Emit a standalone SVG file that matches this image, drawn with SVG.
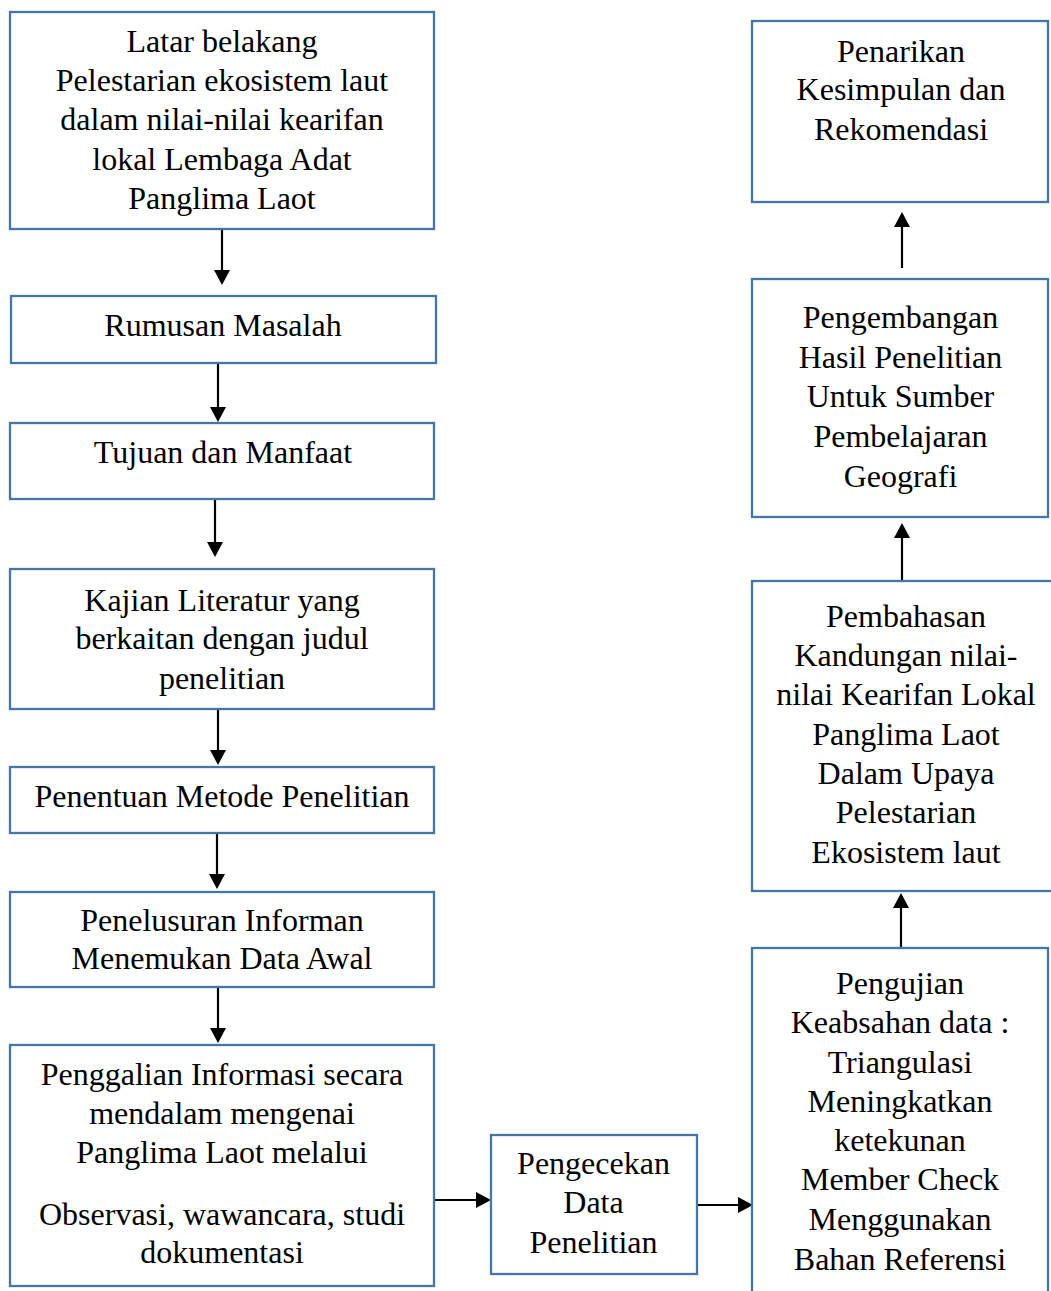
<svg xmlns="http://www.w3.org/2000/svg" width="1051" height="1291" viewBox="0 0 1051 1291">
<style>
.box{fill:#ffffff;stroke:#4675a8;stroke-width:2.3}
.t{font-family:"Liberation Serif","Times New Roman",serif;font-size:32px;fill:#000;text-anchor:middle}
.c{stroke:#000;stroke-width:2.2;fill:none;marker-end:url(#ah)}
</style>
<defs>
<marker id="ah" markerUnits="userSpaceOnUse" markerWidth="18" markerHeight="18" viewBox="0 0 18 18" refX="9" refY="9" orient="auto">
<path d="M1,1 L16,9 L1,17 z" fill="#000"/>
</marker>
</defs>
<rect width="1051" height="1291" fill="#ffffff"/>
<g id="connectors">
<line class="c" x1="222" y1="230" x2="222" y2="278"/>
<line class="c" x1="218" y1="364" x2="218" y2="415"/>
<line class="c" x1="215" y1="500" x2="215" y2="550"/>
<line class="c" x1="218" y1="710" x2="218" y2="758"/>
<line class="c" x1="217" y1="834" x2="217" y2="882"/>
<line class="c" x1="218" y1="988" x2="218" y2="1036"/>
<line class="c" x1="435" y1="1200" x2="484" y2="1200"/>
<line class="c" x1="698" y1="1205" x2="746" y2="1205"/>
<line class="c" x1="901" y1="947" x2="901" y2="900"/>
<line class="c" x1="902" y1="580" x2="902" y2="530"/>
<line class="c" x1="902" y1="268" x2="902" y2="219"/>
</g>
<g id="n1"><rect class="box" x="10" y="12" width="424" height="217"/>
<text class="t" x="222" y="52">Latar belakang</text>
<text class="t" x="222" y="91">Pelestarian ekosistem laut</text>
<text class="t" x="222" y="130">dalam nilai-nilai kearifan</text>
<text class="t" x="222" y="170">lokal Lembaga Adat</text>
<text class="t" x="222" y="209">Panglima Laot</text></g>
<g id="n2"><rect class="box" x="11" y="296" width="425" height="67"/>
<text class="t" x="223" y="336">Rumusan Masalah</text></g>
<g id="n3"><rect class="box" x="10" y="423" width="424" height="76"/>
<text class="t" x="223" y="463">Tujuan dan Manfaat</text></g>
<g id="n4"><rect class="box" x="10" y="569" width="424" height="140"/>
<text class="t" x="222" y="611">Kajian Literatur yang</text>
<text class="t" x="222" y="649">berkaitan dengan judul</text>
<text class="t" x="222" y="689">penelitian</text></g>
<g id="n5"><rect class="box" x="10" y="767" width="424" height="66"/>
<text class="t" x="222" y="807">Penentuan Metode Penelitian</text></g>
<g id="n6"><rect class="box" x="10" y="892" width="424" height="95"/>
<text class="t" x="222" y="931">Penelusuran Informan</text>
<text class="t" x="222" y="969">Menemukan Data Awal</text></g>
<g id="n7"><rect class="box" x="10" y="1045" width="424" height="241"/>
<text class="t" x="222" y="1085">Penggalian Informasi secara</text>
<text class="t" x="222" y="1124">mendalam mengenai</text>
<text class="t" x="222" y="1163">Panglima Laot melalui</text>
<text class="t" x="222" y="1225">Observasi, wawancara, studi</text>
<text class="t" x="222" y="1263">dokumentasi</text></g>
<g id="n8"><rect class="box" x="491" y="1135" width="206" height="139"/>
<text class="t" x="593.5" y="1174">Pengecekan</text>
<text class="t" x="593.5" y="1213">Data</text>
<text class="t" x="593.5" y="1253">Penelitian</text></g>
<g id="n9"><rect class="box" x="752" y="948" width="296" height="400"/>
<text class="t" x="900" y="994">Pengujian</text>
<text class="t" x="900" y="1033">Keabsahan data :</text>
<text class="t" x="900" y="1073">Triangulasi</text>
<text class="t" x="900" y="1112">Meningkatkan</text>
<text class="t" x="900" y="1151">ketekunan</text>
<text class="t" x="900" y="1190">Member Check</text>
<text class="t" x="900" y="1230">Menggunakan</text>
<text class="t" x="900" y="1270">Bahan Referensi</text></g>
<g id="n10"><rect class="box" x="752" y="581" width="320" height="310"/>
<text class="t" x="906" y="627">Pembahasan</text>
<text class="t" x="906" y="666">Kandungan nilai-</text>
<text class="t" x="906" y="705">nilai Kearifan Lokal</text>
<text class="t" x="906" y="745">Panglima Laot</text>
<text class="t" x="906" y="784">Dalam Upaya</text>
<text class="t" x="906" y="823">Pelestarian</text>
<text class="t" x="906" y="863">Ekosistem laut</text></g>
<g id="n11"><rect class="box" x="752" y="279" width="296" height="238"/>
<text class="t" x="900.5" y="328">Pengembangan</text>
<text class="t" x="900.5" y="368">Hasil Penelitian</text>
<text class="t" x="900.5" y="407">Untuk Sumber</text>
<text class="t" x="900.5" y="447">Pembelajaran</text>
<text class="t" x="900.5" y="487">Geografi</text></g>
<g id="n12"><rect class="box" x="752" y="21" width="296" height="181"/>
<text class="t" x="901" y="62">Penarikan</text>
<text class="t" x="901" y="100">Kesimpulan dan</text>
<text class="t" x="901" y="140">Rekomendasi</text></g>
</svg>
